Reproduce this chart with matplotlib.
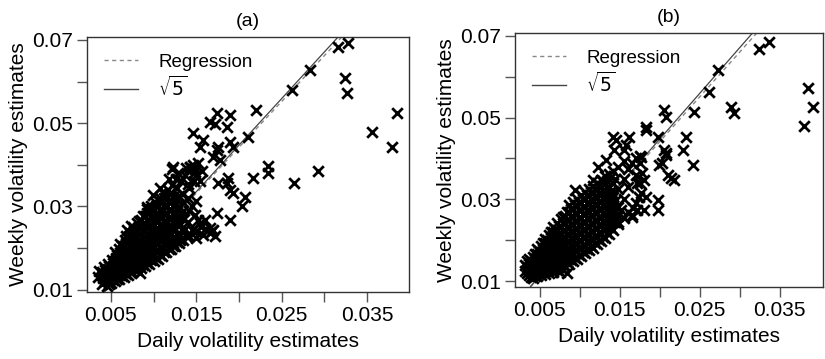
import matplotlib
matplotlib.use("Agg")
import matplotlib.pyplot as plt
from matplotlib.lines import Line2D
from matplotlib.ticker import FixedLocator
import numpy as np

plt.rcParams['font.family'] = ['Liberation Sans', 'DejaVu Sans']

# ---------------- Panel (a) data ----------------
a_x = [
    0.0035, 0.0036,
    0.0040, 0.0041, 0.0040, 0.0042,
    0.0045, 0.0046, 0.0045, 0.0047, 0.0046,
    0.0050, 0.0051, 0.0050, 0.0052, 0.0051,
    0.0055, 0.0056, 0.0055, 0.0057, 0.0056, 0.0055,
    0.0060, 0.0061, 0.0060, 0.0062, 0.0061, 0.0060, 0.0061,
    0.0065, 0.0066, 0.0065, 0.0067, 0.0066, 0.0065, 0.0066,
    0.0070, 0.0071, 0.0070, 0.0072, 0.0071, 0.0070, 0.0071, 0.0069,
    0.0075, 0.0076, 0.0075, 0.0077, 0.0076, 0.0075, 0.0076, 0.0074,
    0.0080, 0.0081, 0.0080, 0.0082, 0.0081, 0.0080, 0.0081, 0.0080,
    0.0085, 0.0086, 0.0085, 0.0087, 0.0086, 0.0085, 0.0086, 0.0085,
    0.0090, 0.0091, 0.0090, 0.0092, 0.0091, 0.0090, 0.0091, 0.0090, 0.0092,
    0.0095, 0.0096, 0.0095, 0.0097, 0.0096, 0.0095, 0.0096, 0.0095, 0.0097,
    0.0100, 0.0101, 0.0100, 0.0102, 0.0101, 0.0100, 0.0101, 0.0100, 0.0102,
    0.0105, 0.0106, 0.0105, 0.0107, 0.0106, 0.0105, 0.0106, 0.0105, 0.0107,
    0.0110, 0.0111, 0.0110, 0.0112, 0.0111, 0.0110, 0.0111, 0.0110, 0.0112,
    0.0115, 0.0116, 0.0115, 0.0117, 0.0116, 0.0115, 0.0116, 0.0115, 0.0117,
    0.0120, 0.0121, 0.0120, 0.0122, 0.0121, 0.0120, 0.0121, 0.0120, 0.0122,
    0.0125, 0.0126, 0.0125, 0.0127, 0.0126, 0.0125, 0.0127, 0.0126,
    0.0130, 0.0131, 0.0130, 0.0132, 0.0131, 0.0130, 0.0132,
    0.0135, 0.0137, 0.0136, 0.0135, 0.0137, 0.0138,
    0.0141, 0.0140, 0.0142, 0.0143, 0.0146, 0.0148,
    0.0150, 0.0152, 0.0156, 0.0160, 0.0152, 0.0157,
    0.0108, 0.0118, 0.0128, 0.0122, 0.0145, 0.0150, 0.0147, 0.0140,
    0.0160, 0.0168, 0.0172, 0.0150, 0.0158,
    0.0135, 0.0140, 0.0145, 0.0142, 0.0148, 0.0150, 0.0133, 0.0128,
    # outliers
    0.0316, 0.0328, 0.0324, 0.0327, 0.0385, 0.0356, 0.0379, 0.0283, 0.0262,
    0.0293, 0.0265, 0.0234, 0.0234, 0.0217, 0.0220, 0.0211, 0.0207, 0.0204,
    0.0190, 0.0193, 0.0189, 0.0186, 0.0190, 0.0174, 0.0166, 0.0172, 0.0146,
    0.0158, 0.0154, 0.0175, 0.0170, 0.0178, 0.0186, 0.0190, 0.0193, 0.0175,
    0.0174, 0.0170, 0.0166, 0.0154, 0.0145, 0.0139, 0.0123, 0.0143, 0.0149,
    0.0154, 0.0099, 0.0092, 0.0076, 0.0084, 0.0123, 0.0131, 0.0174, 0.0187,
    0.0166,
]
a_y = [
    0.0130, 0.0145,
    0.0115, 0.0128, 0.0142, 0.0155,
    0.0110, 0.0122, 0.0136, 0.0150, 0.0163,
    0.0117, 0.0130, 0.0144, 0.0158, 0.0172,
    0.0120, 0.0134, 0.0148, 0.0162, 0.0177, 0.0190,
    0.0125, 0.0139, 0.0153, 0.0168, 0.0183, 0.0198, 0.0210,
    0.0130, 0.0145, 0.0160, 0.0175, 0.0190, 0.0205, 0.0220,
    0.0135, 0.0150, 0.0166, 0.0181, 0.0196, 0.0212, 0.0228, 0.0243,
    0.0142, 0.0157, 0.0173, 0.0188, 0.0204, 0.0220, 0.0236, 0.0252,
    0.0148, 0.0163, 0.0179, 0.0195, 0.0211, 0.0227, 0.0243, 0.0260,
    0.0152, 0.0168, 0.0185, 0.0201, 0.0218, 0.0234, 0.0251, 0.0268,
    0.0157, 0.0174, 0.0191, 0.0208, 0.0225, 0.0242, 0.0259, 0.0277, 0.0294,
    0.0163, 0.0180, 0.0197, 0.0214, 0.0231, 0.0249, 0.0266, 0.0284, 0.0302,
    0.0168, 0.0186, 0.0203, 0.0221, 0.0238, 0.0256, 0.0274, 0.0292, 0.0310,
    0.0175, 0.0193, 0.0211, 0.0229, 0.0247, 0.0265, 0.0283, 0.0301, 0.0320,
    0.0182, 0.0200, 0.0218, 0.0236, 0.0255, 0.0273, 0.0291, 0.0310, 0.0330,
    0.0190, 0.0208, 0.0226, 0.0245, 0.0263, 0.0282, 0.0300, 0.0320, 0.0340,
    0.0197, 0.0216, 0.0235, 0.0254, 0.0272, 0.0292, 0.0312, 0.0333, 0.0352,
    0.0205, 0.0225, 0.0245, 0.0265, 0.0285, 0.0305, 0.0345, 0.0365,
    0.0212, 0.0232, 0.0252, 0.0275, 0.0298, 0.0325, 0.0360,
    0.0220, 0.0245, 0.0270, 0.0310, 0.0375, 0.0392,
    0.0230, 0.0262, 0.0290, 0.0395, 0.0400, 0.0382,
    0.0242, 0.0268, 0.0250, 0.0245, 0.0405, 0.0385,
    0.0345, 0.0365, 0.0380, 0.0390, 0.0390, 0.0375, 0.0360, 0.0355,
    0.0268, 0.0240, 0.0228, 0.0225, 0.0232,
    0.0290, 0.0320, 0.0300, 0.0345, 0.0280, 0.0312, 0.0330, 0.0322,
    # outliers
    0.0683, 0.0693, 0.0609, 0.0573, 0.0525, 0.0479, 0.0443, 0.0628, 0.0580,
    0.0386, 0.0357, 0.0398, 0.0381, 0.0369, 0.0532, 0.0467, 0.0323, 0.0300,
    0.0268, 0.0443, 0.0455, 0.0491, 0.0520, 0.0524, 0.0504, 0.0497, 0.0477,
    0.0460, 0.0443, 0.0443, 0.0419, 0.0412, 0.0357, 0.0340, 0.0333, 0.0357,
    0.0285, 0.0244, 0.0237, 0.0261, 0.0244, 0.0227, 0.0395, 0.0395, 0.0390,
    0.0360, 0.0328, 0.0299, 0.0251, 0.0141, 0.0213, 0.0220, 0.0436, 0.0369,
    0.0249,
]
# panel (a): extra points filling the dense core of the cloud
a_core_x = [
    0.00425, 0.00425, 0.00425,
    0.00475, 0.00475, 0.00475, 0.00475,
    0.00525, 0.00525, 0.00525, 0.00525,
    0.00575, 0.00575, 0.00575, 0.00575, 0.00575,
    0.00625, 0.00625, 0.00625, 0.00625, 0.00625, 0.00625,
    0.00675, 0.00675, 0.00675, 0.00675, 0.00675, 0.00675, 0.00675,
    0.00725, 0.00725, 0.00725, 0.00725, 0.00725, 0.00725, 0.00725,
    0.00775, 0.00775, 0.00775, 0.00775, 0.00775, 0.00775, 0.00775,
    0.00825, 0.00825, 0.00825, 0.00825, 0.00825, 0.00825, 0.00825, 0.00825,
    0.00875, 0.00875, 0.00875, 0.00875, 0.00875, 0.00875, 0.00875, 0.00875,
    0.00925, 0.00925, 0.00925, 0.00925, 0.00925, 0.00925, 0.00925, 0.00925,
    0.00975, 0.00975, 0.00975, 0.00975, 0.00975, 0.00975, 0.00975, 0.00975,
    0.01025, 0.01025, 0.01025, 0.01025, 0.01025, 0.01025, 0.01025, 0.01025,
    0.01075, 0.01075, 0.01075, 0.01075, 0.01075, 0.01075, 0.01075, 0.01075,
    0.01125, 0.01125, 0.01125, 0.01125, 0.01125, 0.01125, 0.01125, 0.01125,
    0.01175, 0.01175, 0.01175, 0.01175, 0.01175, 0.01175, 0.01175, 0.01175,
    0.01225, 0.01225, 0.01225, 0.01225, 0.01225, 0.01225, 0.01225,
    0.01275, 0.01275, 0.01275, 0.01275, 0.01275, 0.01275,
]
a_core_y = [
    0.0122, 0.0135, 0.0148,
    0.0115, 0.0129, 0.0143, 0.0157,
    0.0124, 0.0137, 0.0151, 0.0165,
    0.0127, 0.0141, 0.0155, 0.0170, 0.0184,
    0.0132, 0.0146, 0.0161, 0.0176, 0.0191, 0.0204,
    0.0138, 0.0153, 0.0168, 0.0183, 0.0198, 0.0213, 0.0228,
    0.0143, 0.0158, 0.0174, 0.0189, 0.0204, 0.0220, 0.0236,
    0.0150, 0.0165, 0.0181, 0.0196, 0.0212, 0.0228, 0.0244,
    0.0156, 0.0171, 0.0187, 0.0203, 0.0219, 0.0235, 0.0251, 0.0266,
    0.0160, 0.0176, 0.0193, 0.0209, 0.0226, 0.0242, 0.0259, 0.0276,
    0.0165, 0.0182, 0.0199, 0.0216, 0.0233, 0.0250, 0.0268, 0.0285,
    0.0171, 0.0188, 0.0205, 0.0222, 0.0240, 0.0257, 0.0275, 0.0293,
    0.0177, 0.0194, 0.0212, 0.0230, 0.0247, 0.0265, 0.0283, 0.0301,
    0.0184, 0.0202, 0.0220, 0.0238, 0.0256, 0.0274, 0.0292, 0.0310,
    0.0191, 0.0209, 0.0227, 0.0245, 0.0264, 0.0282, 0.0300, 0.0320,
    0.0199, 0.0217, 0.0236, 0.0254, 0.0272, 0.0291, 0.0310, 0.0330,
    0.0206, 0.0225, 0.0244, 0.0263, 0.0282, 0.0302, 0.0322,
    0.0215, 0.0235, 0.0255, 0.0275, 0.0295, 0.0315,
]

# ---------------- Panel (b) data ----------------
b_x = [
    0.0032, 0.0032,
    0.0037, 0.0037, 0.0037, 0.0037,
    0.0042, 0.0042, 0.0042, 0.0042, 0.0042,
    0.0047, 0.0047, 0.0047, 0.0047, 0.0047, 0.0047,
    0.0052, 0.0052, 0.0052, 0.0052, 0.0052, 0.0052,
    0.0057, 0.0057, 0.0057, 0.0057, 0.0057, 0.0057, 0.0057,
    0.0062, 0.0062, 0.0062, 0.0062, 0.0062, 0.0062, 0.0062,
    0.0067, 0.0067, 0.0067, 0.0067, 0.0067, 0.0067, 0.0067, 0.0067,
    0.0072, 0.0072, 0.0072, 0.0072, 0.0072, 0.0072, 0.0072, 0.0072,
    0.0077, 0.0077, 0.0077, 0.0077, 0.0077, 0.0077, 0.0077, 0.0077,
    0.0082, 0.0082, 0.0082, 0.0082, 0.0082, 0.0082, 0.0082, 0.0082,
    0.0087, 0.0087, 0.0087, 0.0087, 0.0087, 0.0087, 0.0087, 0.0087, 0.0087,
    0.0092, 0.0092, 0.0092, 0.0092, 0.0092, 0.0092, 0.0092, 0.0092, 0.0092,
    0.0097, 0.0097, 0.0097, 0.0097, 0.0097, 0.0097, 0.0097, 0.0097, 0.0097,
    0.0102, 0.0102, 0.0102, 0.0102, 0.0102, 0.0102, 0.0102, 0.0102, 0.0102,
    0.0107, 0.0107, 0.0107, 0.0107, 0.0107, 0.0107, 0.0107, 0.0107, 0.0107,
    0.0112, 0.0112, 0.0112, 0.0112, 0.0112, 0.0112, 0.0112, 0.0112, 0.0112,
    0.0117, 0.0117, 0.0117, 0.0117, 0.0117, 0.0117, 0.0117, 0.0117, 0.0117,
    0.0122, 0.0122, 0.0122, 0.0122, 0.0122, 0.0122, 0.0122, 0.0122, 0.0122,
    0.0127, 0.0127, 0.0127, 0.0127, 0.0127, 0.0127, 0.0127, 0.0127, 0.0127,
    0.0132, 0.0132, 0.0132, 0.0132, 0.0132, 0.0132, 0.0132, 0.0132, 0.0132,
    0.0137, 0.0137, 0.0137, 0.0137, 0.0137, 0.0137, 0.0137, 0.0137,
    0.0142, 0.0142, 0.0142, 0.0142, 0.0142, 0.0142, 0.0142,
    0.0148, 0.0148, 0.0148, 0.0148, 0.0148,
    0.0155, 0.0155, 0.0155, 0.0155,
    0.0160, 0.0160, 0.0160,
    0.0170, 0.0170, 0.0170, 0.0175, 0.0175, 0.0175,
    # outliers
    0.0337, 0.0324, 0.0386, 0.0392, 0.0380, 0.0289, 0.0293, 0.0273, 0.0262,
    0.0243, 0.0233, 0.0229, 0.0242, 0.0206, 0.0208, 0.0198, 0.0206, 0.0208,
    0.0199, 0.0210, 0.0218, 0.0198, 0.0198, 0.0183, 0.0183, 0.0162, 0.0142,
    0.0146, 0.0155, 0.0177, 0.0181, 0.0177, 0.0180, 0.0167, 0.0165, 0.0152,
    0.0148, 0.0133, 0.0123, 0.0117, 0.0094, 0.0084, 0.0075, 0.0131, 0.0140,
    0.0208, 0.0203, 0.0214, 0.0183, 0.0172, 0.0166, 0.0143, 0.0158, 0.0166,
    0.0178, 0.0172, 0.0174,
]
b_y = [
    0.0125, 0.0140,
    0.0115, 0.0128, 0.0142, 0.0155,
    0.0108, 0.0120, 0.0133, 0.0147, 0.0160,
    0.0112, 0.0125, 0.0139, 0.0153, 0.0167, 0.0178,
    0.0115, 0.0129, 0.0143, 0.0158, 0.0172, 0.0186,
    0.0117, 0.0132, 0.0147, 0.0162, 0.0177, 0.0192, 0.0204,
    0.0120, 0.0135, 0.0151, 0.0166, 0.0182, 0.0198, 0.0213,
    0.0123, 0.0139, 0.0155, 0.0171, 0.0187, 0.0203, 0.0219, 0.0232,
    0.0127, 0.0143, 0.0160, 0.0176, 0.0193, 0.0210, 0.0226, 0.0243,
    0.0131, 0.0148, 0.0165, 0.0182, 0.0199, 0.0216, 0.0233, 0.0252,
    0.0137, 0.0154, 0.0171, 0.0189, 0.0206, 0.0223, 0.0241, 0.0260,
    0.0142, 0.0160, 0.0178, 0.0196, 0.0213, 0.0231, 0.0249, 0.0268, 0.0285,
    0.0148, 0.0166, 0.0184, 0.0202, 0.0220, 0.0238, 0.0257, 0.0276, 0.0294,
    0.0155, 0.0173, 0.0191, 0.0209, 0.0228, 0.0246, 0.0265, 0.0284, 0.0302,
    0.0162, 0.0180, 0.0199, 0.0217, 0.0236, 0.0255, 0.0273, 0.0292, 0.0310,
    0.0168, 0.0187, 0.0206, 0.0225, 0.0244, 0.0263, 0.0282, 0.0300, 0.0318,
    0.0175, 0.0194, 0.0213, 0.0232, 0.0251, 0.0270, 0.0290, 0.0308, 0.0325,
    0.0182, 0.0201, 0.0220, 0.0240, 0.0259, 0.0278, 0.0297, 0.0316, 0.0333,
    0.0190, 0.0209, 0.0228, 0.0247, 0.0266, 0.0285, 0.0304, 0.0323, 0.0340,
    0.0197, 0.0216, 0.0236, 0.0255, 0.0274, 0.0293, 0.0312, 0.0331, 0.0348,
    0.0205, 0.0224, 0.0243, 0.0262, 0.0281, 0.0300, 0.0319, 0.0338, 0.0356,
    0.0214, 0.0233, 0.0252, 0.0271, 0.0290, 0.0310, 0.0330, 0.0362,
    0.0225, 0.0245, 0.0265, 0.0285, 0.0305, 0.0340, 0.0370,
    0.0240, 0.0260, 0.0282, 0.0325, 0.0380,
    0.0255, 0.0300, 0.0350, 0.0395,
    0.0270, 0.0330, 0.0375,
    0.0290, 0.0360, 0.0400, 0.0388, 0.0405, 0.0340,
    # outliers
    0.0685, 0.0668, 0.0573, 0.0526, 0.0480, 0.0526, 0.0511, 0.0617, 0.0563,
    0.0514, 0.0453, 0.0421, 0.0384, 0.0519, 0.0502, 0.0453, 0.0421, 0.0409,
    0.0384, 0.0360, 0.0347, 0.0298, 0.0274, 0.0478, 0.0470, 0.0453, 0.0453,
    0.0445, 0.0421, 0.0404, 0.0347, 0.0316, 0.0274, 0.0279, 0.0262, 0.0274,
    0.0245, 0.0396, 0.0379, 0.0347, 0.0323, 0.0120, 0.0122, 0.0225, 0.0316,
    0.0414, 0.0389, 0.0353, 0.0306, 0.0274, 0.0257, 0.0421, 0.0433, 0.0389,
    0.0364, 0.0340, 0.0306,
]
# panel (b): extra points filling the dense core of the cloud
b_core_x = [
    0.00345, 0.00345, 0.00345,
    0.00395, 0.00395, 0.00395, 0.00395,
    0.00445, 0.00445, 0.00445, 0.00445, 0.00445,
    0.00495, 0.00495, 0.00495, 0.00495, 0.00495,
    0.00545, 0.00545, 0.00545, 0.00545, 0.00545, 0.00545,
    0.00595, 0.00595, 0.00595, 0.00595, 0.00595, 0.00595,
    0.00645, 0.00645, 0.00645, 0.00645, 0.00645, 0.00645, 0.00645,
    0.00695, 0.00695, 0.00695, 0.00695, 0.00695, 0.00695, 0.00695,
    0.00745, 0.00745, 0.00745, 0.00745, 0.00745, 0.00745, 0.00745,
    0.00795, 0.00795, 0.00795, 0.00795, 0.00795, 0.00795, 0.00795, 0.00795,
    0.00845, 0.00845, 0.00845, 0.00845, 0.00845, 0.00845, 0.00845, 0.00845,
    0.00895, 0.00895, 0.00895, 0.00895, 0.00895, 0.00895, 0.00895, 0.00895,
    0.00945, 0.00945, 0.00945, 0.00945, 0.00945, 0.00945, 0.00945, 0.00945,
    0.00995, 0.00995, 0.00995, 0.00995, 0.00995, 0.00995, 0.00995, 0.00995,
    0.01045, 0.01045, 0.01045, 0.01045, 0.01045, 0.01045, 0.01045, 0.01045,
    0.01095, 0.01095, 0.01095, 0.01095, 0.01095, 0.01095, 0.01095, 0.01095,
    0.01145, 0.01145, 0.01145, 0.01145, 0.01145, 0.01145, 0.01145, 0.01145,
    0.01195, 0.01195, 0.01195, 0.01195, 0.01195, 0.01195, 0.01195, 0.01195,
    0.01245, 0.01245, 0.01245, 0.01245, 0.01245, 0.01245, 0.01245, 0.01245,
    0.01295, 0.01295, 0.01295, 0.01295, 0.01295, 0.01295, 0.01295, 0.01295,
    0.01345, 0.01345, 0.01345, 0.01345, 0.01345, 0.01345, 0.01345,
    0.01395, 0.01395, 0.01395, 0.01395, 0.01395, 0.01395,
    0.01445, 0.01445, 0.01445, 0.01445,
]
b_core_y = [
    0.0120, 0.0134, 0.0148,
    0.0110, 0.0122, 0.0135, 0.0149,
    0.0112, 0.0126, 0.0140, 0.0154, 0.0166,
    0.0118, 0.0132, 0.0146, 0.0160, 0.0174,
    0.0122, 0.0136, 0.0151, 0.0165, 0.0179, 0.0194,
    0.0125, 0.0140, 0.0155, 0.0170, 0.0185, 0.0200,
    0.0128, 0.0143, 0.0159, 0.0174, 0.0190, 0.0206, 0.0220,
    0.0131, 0.0147, 0.0163, 0.0179, 0.0195, 0.0211, 0.0227,
    0.0135, 0.0152, 0.0168, 0.0185, 0.0201, 0.0218, 0.0235,
    0.0140, 0.0157, 0.0174, 0.0191, 0.0208, 0.0225, 0.0242, 0.0256,
    0.0146, 0.0163, 0.0180, 0.0197, 0.0215, 0.0232, 0.0250, 0.0268,
    0.0151, 0.0169, 0.0187, 0.0205, 0.0222, 0.0240, 0.0258, 0.0276,
    0.0157, 0.0175, 0.0193, 0.0211, 0.0229, 0.0248, 0.0266, 0.0285,
    0.0164, 0.0182, 0.0200, 0.0218, 0.0237, 0.0255, 0.0274, 0.0293,
    0.0171, 0.0189, 0.0208, 0.0226, 0.0245, 0.0264, 0.0282, 0.0301,
    0.0178, 0.0197, 0.0216, 0.0235, 0.0254, 0.0273, 0.0292, 0.0310,
    0.0185, 0.0204, 0.0223, 0.0242, 0.0261, 0.0280, 0.0300, 0.0318,
    0.0192, 0.0211, 0.0230, 0.0250, 0.0269, 0.0288, 0.0307, 0.0326,
    0.0200, 0.0219, 0.0238, 0.0258, 0.0277, 0.0296, 0.0315, 0.0334,
    0.0209, 0.0228, 0.0247, 0.0266, 0.0285, 0.0304, 0.0324, 0.0344,
    0.0218, 0.0237, 0.0256, 0.0276, 0.0295, 0.0315, 0.0346,
    0.0230, 0.0250, 0.0270, 0.0290, 0.0320, 0.0355,
    0.0245, 0.0268, 0.0295, 0.0350,
]

# regression coefficients (intercept, slope) and the sqrt(5) scaling
a_reg = (0.0002, 2.20)
b_reg = (0.0003, 2.19)
sqrt5 = np.sqrt(5)

titles = ["(a)", "(b)"]
x_major = [0.005, 0.015, 0.025, 0.035]
x_minor = [0.010, 0.020, 0.030]
y_major = [0.01, 0.03, 0.05, 0.07]
y_minor = [0.02, 0.04, 0.06]
x_labels = ["0.005", "0.015", "0.025", "0.035"]
y_labels = ["0.01", "0.03", "0.05", "0.07"]

fig = plt.figure(figsize=(8.25, 3.59), dpi=100)
axA = fig.add_axes([0.1055, 0.187, 0.390, 0.710])
axB = fig.add_axes([0.6242, 0.200, 0.373, 0.708])

panels = [
    (axA, a_x + a_core_x, a_y + a_core_y, a_reg, (0.0022, 0.0399), (0.0095, 0.0707)),
    (axB, b_x + b_core_x, b_y + b_core_y, b_reg, (0.0019, 0.0404), (0.0085, 0.0707)),
]

for (ax, xs, ys, reg, xl, yl), title in zip(panels, titles):
    ax.scatter(xs, ys, marker='x', s=58, c='black', linewidths=2.0, zorder=3)
    xx = np.array([0.0, 0.05])
    ax.plot(xx, reg[0] + reg[1] * xx, color='#888888', lw=1.0,
            ls=(0, (3, 2.5)), zorder=2)
    ax.plot(xx, sqrt5 * xx, color='#444444', lw=0.9, zorder=2)
    ax.set_xlim(*xl)
    ax.set_ylim(*yl)
    ax.xaxis.set_major_locator(FixedLocator(x_major))
    ax.xaxis.set_minor_locator(FixedLocator(x_minor))
    ax.yaxis.set_major_locator(FixedLocator(y_major))
    ax.yaxis.set_minor_locator(FixedLocator(y_minor))
    ax.set_xticklabels(x_labels)
    ax.set_yticklabels(y_labels)
    ax.tick_params(which='both', direction='out', color='#555555', width=1.0,
                   length=7)
    ax.tick_params(which='major', labelsize=15, pad=3)
    for sp in ax.spines.values():
        sp.set_color('#333333')
        sp.set_linewidth(1.0)
    ax.set_xlabel("Daily volatility estimates", fontsize=15, labelpad=5)
    ax.set_ylabel("Weekly volatility estimates", fontsize=15, labelpad=3)
    ax.set_title(title, fontsize=14, pad=8)
    handles = [
        Line2D([], [], color='#888888', lw=1.0, ls=(0, (3, 2.5))),
        Line2D([], [], color='#444444', lw=1.0),
    ]
    ax.legend(handles, ["Regression", r"$\sqrt{5}$"], loc='upper left',
              bbox_to_anchor=(0.0, 1.0), frameon=False, fontsize=13.5,
              handlelength=1.8, handletextpad=1.1, labelspacing=0.25)

fig.savefig("out.png", dpi=100)
